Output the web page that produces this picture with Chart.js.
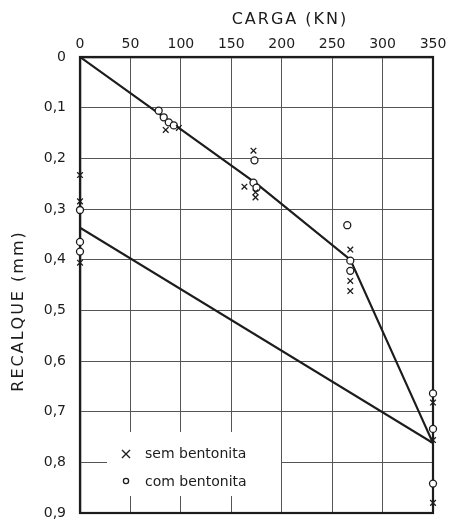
<!DOCTYPE html>
<html>
<head>
<meta charset="utf-8">
<script src="https://cdn.jsdelivr.net/npm/chart.js@4.4.1/dist/chart.umd.min.js"></script>
<style>
  html, body { margin: 0; padding: 0; background: #fff; overflow: hidden; }
  canvas { display: block; }
</style>
</head>
<body>
<canvas id="grafico" width="449" height="523"></canvas>
<script>
// carga (kN) e recalque (mm)
const cargaTicks = [0, 50, 100, 150, 200, 250, 300, 350];
const recalqueTicks = ['0', '0,1', '0,2', '0,3', '0,4', '0,5', '0,6', '0,7', '0,8', '0,9'];

const semCarga    = [0, 0, 0, 85, 98, 172, 163, 174, 174, 268, 268, 268, 350, 350, 350];
const semRecalque = [0.233, 0.285, 0.406, 0.144, 0.140, 0.185, 0.256, 0.267, 0.277, 0.380, 0.442, 0.462, 0.682, 0.756, 0.880];

const comCarga    = [0, 0, 0, 78, 83, 88, 93, 173, 172, 175, 265, 268, 268, 350, 350, 350];
const comRecalque = [0.302, 0.365, 0.384, 0.106, 0.119, 0.129, 0.135, 0.204, 0.248, 0.258, 0.332, 0.402, 0.422, 0.664, 0.734, 0.842];

const curvaCarga    = [0, 175, 268, 350];
const curvaRecalque = [0, 0.25, 0.40, 0.762];

const retaCarga    = [0, 350];
const retaRecalque = [0.337, 0.762];

const pares = (xs, ys) => xs.map((v, i) => ({ x: v, y: ys[i] }));

const tinta = '#1c1c1c';

const extras = {
  id: 'extras',
  beforeDatasetsDraw(chart) {
    // moldura
    const { ctx, chartArea: a } = chart;
    ctx.save();
    ctx.strokeStyle = tinta;
    ctx.lineWidth = 2.2;
    ctx.strokeRect(a.left, a.top, a.right - a.left, a.bottom - a.top);
    ctx.restore();
  },
  afterDraw(chart) {
    const ctx = chart.ctx;
    ctx.save();
    // caixa da legenda
    ctx.fillStyle = '#fff';
    ctx.fillRect(107, 432, 174, 64);
    ctx.fillStyle = tinta;
    ctx.strokeStyle = tinta;
    ctx.font = '14px "DejaVu Sans"';
    ctx.textBaseline = 'middle';
    ctx.textAlign = 'left';
    ctx.fillText('sem bentonita', 145, 454);
    ctx.fillText('com bentonita', 145, 482);
    ctx.lineWidth = 1.3;
    ctx.beginPath();
    ctx.moveTo(122, 450); ctx.lineTo(130, 458);
    ctx.moveTo(130, 450); ctx.lineTo(122, 458);
    ctx.stroke();
    ctx.beginPath();
    ctx.arc(126, 481, 2.6, 0, Math.PI * 2);
    ctx.stroke();

    // titulos dos eixos
    ctx.textAlign = 'center';
    ctx.font = '16px "DejaVu Sans"';
    ctx.letterSpacing = '2px';
    ctx.fillText('CARGA (KN)', 290, 20);
    ctx.translate(19, 311);
    ctx.rotate(-Math.PI / 2);
    ctx.fillText('RECALQUE (mm)', 0, 0);
    ctx.restore();
  }
};

new Chart(document.getElementById('grafico'), {
  type: 'scatter',
  data: {
    datasets: [
      {
        label: 'sem bentonita',
        data: pares(semCarga, semRecalque),
        pointStyle: 'crossRot',
        pointRadius: 4,
        borderColor: tinta,
        borderWidth: 1.3,
        clip: false
      },
      {
        label: 'com bentonita',
        data: pares(comCarga, comRecalque),
        pointStyle: 'circle',
        pointRadius: 3.5,
        backgroundColor: '#fff',
        borderColor: tinta,
        borderWidth: 1.3,
        clip: false
      },
      {
        label: 'curva',
        data: pares(curvaCarga, curvaRecalque),
        showLine: true,
        pointRadius: 0,
        borderColor: tinta,
        borderWidth: 2.2
      },
      {
        label: 'reta',
        data: pares(retaCarga, retaRecalque),
        showLine: true,
        pointRadius: 0,
        borderColor: tinta,
        borderWidth: 2.2
      }
    ]
  },
  options: {
    responsive: false,
    animation: false,
    layout: { padding: { top: 0, right: 16, bottom: 10, left: 0 } },
    plugins: {
      legend: { display: false },
      tooltip: { enabled: false }
    },
    scales: {
      x: {
        type: 'linear',
        position: 'top',
        min: 0,
        max: 350,
        afterBuildTicks: s => { s.ticks = cargaTicks.map(v => ({ value: v })); },
        afterFit: s => { s.height = 57; s.paddingLeft = 0; s.paddingRight = 0; },
        ticks: {
          color: tinta,
          font: { family: 'DejaVu Sans', size: 14 },
          padding: 4,
          maxRotation: 0
        },
        grid: { color: '#555', lineWidth: 1, drawTicks: false },
        border: { color: tinta, width: 2.2 }
      },
      y: {
        type: 'linear',
        reverse: true,
        min: 0,
        max: 0.9,
        afterBuildTicks: s => { s.ticks = recalqueTicks.map((t, i) => ({ value: i / 10 })); },
        afterFit: s => { s.width = 80; s.paddingTop = 0; s.paddingBottom = 0; },
        ticks: {
          color: tinta,
          font: { family: 'DejaVu Sans', size: 14 },
          padding: 14,
          callback: (v, i) => recalqueTicks[i]
        },
        grid: { color: '#555', lineWidth: 1, drawTicks: false },
        border: { color: tinta, width: 2.2 }
      }
    }
  },
  plugins: [extras]
});
</script>
</body>
</html>
